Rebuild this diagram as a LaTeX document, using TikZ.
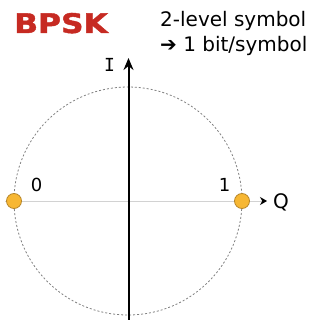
\documentclass[tikz,border=0pt]{standalone}
\usepackage{fontspec}
\setmainfont{DejaVu Sans}
\newfontfamily\serifI{DejaVu Sans Mono}
\newfontfamily\titlefont[FakeStretch=1.16,BoldFeatures={FakeBold=1.6}]{DejaVu Sans}
\usepackage{xcolor}
\usetikzlibrary{arrows.meta,positioning}

\definecolor{bpskred}{HTML}{C62A22}
\definecolor{dotfill}{HTML}{F7B733}
\definecolor{dotedge}{HTML}{B7862A}

\tikzset{
  symdot/.style={circle,draw=dotedge,fill=dotfill,line width=0.8pt,minimum size=15pt,inner sep=0pt},
  lbl/.style={font=\fontsize{18}{20}\selectfont,inner sep=0pt},
  txt/.style={font=\fontsize{20}{24}\selectfont,inner sep=0pt},
}

\begin{document}
\begin{tikzpicture}[x=1pt,y=-1pt]
  \useasboundingbox (0,0) rectangle (327,320);
  % unit circle
  \draw[gray,line width=0.8pt,dash pattern=on 2pt off 2pt] (128,201) circle[radius=114];
  % axes
  \coordinate (qstart) at (5,201);
  \coordinate (qend) at (267,201);
  \coordinate (istart) at (128.5,320);
  \coordinate (iend) at (128.5,58);
  \draw[gray!35,line width=0.8pt,-{Stealth[black,length=7pt,width=8pt]}] (qstart) -- (qend);
  \draw[line width=2pt,-{Stealth[length=12pt,width=10pt]}] (istart) -- (iend);
  \node[txt,anchor=base west] (qlbl) at (273,209) {Q};
  \node[lbl,anchor=base] (ilbl) at (109.5,72) {\serifI I};
  % symbols
  \node[symdot] (p0) at (14,201) {};
  \node[symdot] (p1) at (242,201) {};
  \node[lbl,anchor=base] (l0) at (36.5,192) {0};
  \node[lbl,anchor=base] (l1) at (224.5,192) {1};
  % title
  \node[font=\fontsize{27}{30}\selectfont\titlefont\bfseries,text=bpskred,anchor=base west,inner sep=0pt] (title) at (14,33) {BPSK};
  \node[txt,anchor=base west] (line1) at (160,27) {2-level symbol};
  \node[txt,anchor=base west] (line2) at (160,52) {➔ 1 bit/symbol};
\end{tikzpicture}
\end{document}
